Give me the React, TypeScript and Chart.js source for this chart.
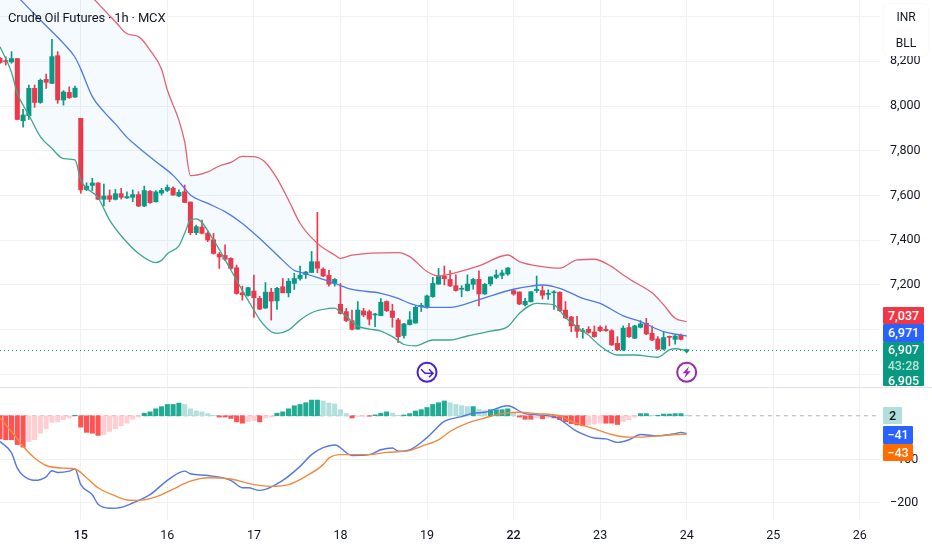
import React, { useEffect, useRef } from "react";
import { Chart, registerables } from "chart.js";

Chart.register(...registerables);

// candles, one per hourly bar
const opens = [8213, 8203, 8197, 8212, 7934, 7957, 8079, 8016, 8119, 8101, 8225, 8027, 8061, 8040, 7945, 7627, 7645, 7656, 7583, 7599, 7583, 7608, 7589, 7592, 7604, 7553, 7619, 7572, 7611, 7623, 7633, 7598, 7617, 7571, 7434, 7459, 7431, 7402, 7338, 7332, 7319, 7277, 7165, 7153, 7173, 7140, 7097, 7168, 7129, 7192, 7165, 7207, 7229, 7246, 7256, 7304, 7271, 7243, 7207, 7114, 7081, 7041, 7003, 7084, 7081, 7066, 7063, 7126, 7084, 7044, 6974, 7023, 7030, 7103, 7099, 7148, 7204, 7240, 7225, 7197, 7181, 7175, 7203, 7225, 7160, 7205, 7234, 7243, 7249, 7175, 7169, 7112, 7125, 7175, 7175, 7158, 7165, 7167, 7088, 7057, 7020, 6992, 7002, 6990, 7011, 7002, 6996, 6939, 6910, 7010, 6962, 7011, 7029, 6984, 6959, 6913, 6969, 6957, 6975, 6905];
const closes = [8194, 8198, 8212, 7940, 7960, 8079, 8016, 8115, 8106, 8221, 8027, 8063, 8037, 8080, 7625, 7642, 7656, 7583, 7598, 7583, 7608, 7592, 7595, 7604, 7553, 7622, 7568, 7616, 7623, 7636, 7602, 7614, 7569, 7434, 7461, 7431, 7401, 7341, 7325, 7315, 7274, 7162, 7156, 7188, 7143, 7092, 7168, 7128, 7185, 7165, 7217, 7229, 7244, 7258, 7304, 7275, 7240, 7204, 7225, 7073, 7041, 7002, 7088, 7066, 7047, 7070, 7123, 7085, 7055, 6969, 7026, 7044, 7100, 7109, 7151, 7207, 7240, 7228, 7196, 7175, 7185, 7204, 7225, 7160, 7203, 7236, 7245, 7254, 7276, 7160, 7115, 7127, 7170, 7181, 7154, 7163, 7169, 7085, 7053, 7017, 6993, 6996, 6988, 6969, 6996, 6996, 6932, 6910, 7007, 6969, 7017, 7026, 6981, 6954, 6913, 6965, 6966, 6972, 6957, 6907];
const highs = [8218, 8220, 8243, 8213, 7985, 8094, 8094, 8121, 8143, 8298, 8243, 8069, 8086, 8089, 7945, 7657, 7677, 7658, 7651, 7625, 7627, 7632, 7617, 7625, 7617, 7642, 7622, 7622, 7632, 7647, 7639, 7625, 7647, 7571, 7468, 7490, 7438, 7431, 7345, 7379, 7322, 7289, 7195, 7190, 7244, 7150, 7211, 7185, 7190, 7229, 7229, 7252, 7284, 7261, 7350, 7525, 7277, 7266, 7229, 7207, 7096, 7088, 7126, 7096, 7088, 7073, 7139, 7129, 7114, 7051, 7029, 7081, 7106, 7118, 7155, 7234, 7274, 7285, 7264, 7245, 7197, 7245, 7230, 7263, 7207, 7237, 7267, 7267, 7278, 7181, 7169, 7140, 7170, 7240, 7196, 7178, 7175, 7170, 7126, 7060, 7060, 7006, 7014, 7017, 7017, 7017, 7000, 6969, 7017, 7029, 7020, 7041, 7051, 7017, 6969, 6992, 6972, 6975, 6981, 6912];
const lows = [8191, 8183, 8191, 7938, 7905, 7940, 7994, 8012, 8079, 8101, 8012, 8004, 8034, 8039, 7610, 7622, 7622, 7581, 7553, 7572, 7580, 7584, 7587, 7572, 7550, 7550, 7565, 7571, 7602, 7617, 7601, 7595, 7568, 7425, 7425, 7428, 7394, 7338, 7274, 7310, 7270, 7159, 7132, 7150, 7055, 7090, 7095, 7043, 7091, 7165, 7147, 7180, 7222, 7229, 7255, 7255, 7237, 7195, 7195, 7070, 7036, 6999, 7002, 7058, 7021, 7014, 7063, 7081, 7011, 6942, 6962, 7021, 7029, 7081, 7096, 7145, 7203, 7200, 7193, 7172, 7148, 7173, 7181, 7106, 7158, 7196, 7228, 7228, 7243, 7154, 7112, 7106, 7124, 7166, 7137, 7136, 7091, 7082, 7050, 6991, 6966, 6962, 6984, 6966, 6991, 6992, 6930, 6907, 6907, 6966, 6960, 7008, 6978, 6951, 6910, 6910, 6928, 6936, 6954, 6900];

const upperBars = [0, 10, 16, 18, 20, 22, 24, 26, 28, 29, 30, 31, 32, 33, 36, 38, 40, 42, 44, 46, 48, 50, 52, 55, 58, 59, 61, 69, 71, 74, 76, 79, 83, 88, 90, 94, 97, 100, 103, 106, 108, 110, 113, 115, 117, 119];
const upperBand = [8760, 8640, 8486, 8431, 8377, 8323, 8310, 8250, 8164, 8072, 8004, 7937, 7841, 7689, 7706, 7732, 7748, 7775, 7774, 7748, 7677, 7580, 7476, 7386, 7334, 7319, 7334, 7345, 7327, 7260, 7240, 7255, 7285, 7334, 7304, 7282, 7275, 7312, 7315, 7282, 7245, 7212, 7165, 7111, 7051, 7036];
const middleBars = [0, 3, 6, 9, 11, 13, 14, 16, 18, 20, 22, 24, 27, 30, 32, 33, 36, 39, 42, 44, 47, 49, 51, 52, 56, 58, 61, 66, 69, 71, 74, 78, 83, 89, 92, 94, 97, 101, 104, 108, 111, 115, 119];
const middleBand = [8570, 8490, 8410, 8333, 8280, 8218, 8165, 8042, 7975, 7920, 7860, 7815, 7752, 7690, 7632, 7602, 7565, 7528, 7475, 7431, 7360, 7310, 7265, 7258, 7225, 7207, 7180, 7163, 7140, 7118, 7100, 7100, 7135, 7181, 7195, 7200, 7185, 7140, 7118, 7062, 7036, 6992, 6972];
const lowerBars = [0, 2, 3, 5, 7, 9, 11, 13, 14, 17, 19, 21, 24, 27, 28, 29, 31, 32, 33, 34, 37, 40, 42, 44, 45, 47, 48, 50, 52, 54, 57, 58, 59, 60, 62, 64, 66, 68, 70, 72, 75, 78, 81, 85, 88, 90, 93, 96, 98, 100, 102, 104, 107, 110, 114, 116, 117, 119];
const lowerBand = [8265, 8150, 8057, 7960, 7863, 7810, 7765, 7759, 7669, 7590, 7490, 7420, 7341, 7300, 7310, 7340, 7375, 7431, 7490, 7496, 7401, 7267, 7175, 7088, 7045, 6991, 6984, 6998, 7043, 7076, 7095, 7097, 7080, 7060, 7016, 7003, 6994, 6969, 6934, 6928, 6954, 6954, 6972, 6994, 7014, 7073, 7118, 7111, 7055, 7012, 6975, 6928, 6887, 6887, 6877, 6910, 6915, 6907];

// macd pane
const histogram = [-53, -55, -55, -66, -72, -59, -55, -40, -30, -15, -14, -9, -5, 1, -26, -38, -40, -45, -43, -36, -30, -23, -17, -8, -3, 6, 9, 16, 21, 26, 26, 29, 26, 16, 11, 9, 5, 1, -3, -3, -6, -14, -17, -13, -11, -14, -5, -3, 6, 9, 16, 23, 26, 30, 36, 36, 34, 29, 27, 14, 5, -5, -1.5, -1, -1, 2, 6, 9, 6, 1, 2, 5, 11, 14, 19, 26, 30, 34, 30, 26, 23, 21, 21, 15, 12, 14, 14, 14, 16, 6, -3, -8, -8, -5, -7, -5, -5, -9, -14, -18, -21, -23, -21, -19, -17, -17, -17, -20, -13, -9, -3, 5, 5, 1, 1, 4, 4, 5, 5, 2];
const macdBars = [0, 2, 3, 4, 6, 8, 9, 10, 12, 13, 14, 16, 17, 19, 21, 23, 26, 29, 32, 33, 36, 40, 42, 43, 45, 49, 52, 54, 56, 58, 61, 64, 66, 68, 69, 71, 74, 77, 80, 82, 84, 88, 91, 96, 100, 103, 105, 107, 109, 111, 114, 117, 118, 119];
const macdLine = [-59, -85, -120, -137, -148, -140, -126, -130, -127, -122, -158, -181, -203, -212, -210, -200, -181, -148, -127, -133, -137, -148, -165, -165, -171, -148, -116, -89, -73, -67, -91, -89, -78, -74, -81, -78, -50, -13, -2, 6, 8, 23, 5, -2, -36, -51, -53, -61, -55, -43, -46, -41, -38, -41];
const signalBars = [0, 2, 4, 6, 8, 11, 13, 15, 17, 20, 22, 24, 27, 30, 33, 36, 40, 44, 47, 50, 53, 56, 57, 59, 64, 67, 71, 73, 76, 78, 81, 84, 87, 90, 93, 97, 99, 103, 106, 109, 111, 114, 117, 119];
const signalLine = [-5, -36, -70, -97, -114, -120, -122, -142, -165, -184, -193, -194, -186, -168, -150, -142, -145, -158, -162, -158, -139, -112, -97, -89, -89, -84, -80, -70, -55, -36, -17, -5, 5, 8, 5, 0, -13, -30, -43, -49, -49, -46, -43, -42];

// axes
const dayBars = [14, 29, 44, 59, 74, 89, 104, 119, 134, 149];
const dayLabels = ["15", "16", "17", "18", "19", "22", "23", "24", "25", "26"];
const boldDays = ["15", "22"];
const priceTicks = [6800, 7000, 7200, 7400, 7600, 7800, 8000, 8200, 8400];
const macdTicks = [-200, -100];

const lastPrice = 6907;
const eventBars = [74, 119];

const GREEN = "#089981";
const RED = "#f23645";
const FONT = "Roboto, sans-serif";
const LAST_BAR_AXIS_END = 152.5;

const pairs = (xs: number[], ys: number[]) => xs.map((x, i) => ({ x, y: ys[i] }));

const candleColors = closes.map((c, i) => (c >= opens[i] ? GREEN : RED));
const histColors = histogram.map((h, i) => {
  const prev = i > 0 ? histogram[i - 1] : h;
  if (h >= 0) return h >= prev ? "#22ab94" : "#b2dfdb";
  return h <= prev ? "#ff5252" : "#ffcdd2";
});

// separator between panes, the two event badges, the small arrow on the last candle
const overlayPlugin = {
  id: "overlay",
  afterDatasetsDraw(chart: any) {
    const { ctx, scales } = chart;
    const x = scales.x;
    const price = scales.y;
    ctx.save();
    ctx.strokeStyle = "#e0e3eb";
    ctx.lineWidth = 1;
    ctx.beginPath();
    ctx.moveTo(0, price.bottom + 0.5);
    ctx.lineTo(chart.width, price.bottom + 0.5);
    ctx.stroke();

    const yBadge = price.getPixelForValue(6810);
    eventBars.forEach((bar, i) => {
      const cx = x.getPixelForValue(bar);
      const color = i === 0 ? "#4a1fd8" : "#9c27b0";
      ctx.strokeStyle = color;
      ctx.fillStyle = color;
      ctx.lineWidth = 2;
      ctx.beginPath();
      ctx.arc(cx, yBadge, 9.5, 0, Math.PI * 2);
      ctx.stroke();
      ctx.lineWidth = 1.5;
      ctx.beginPath();
      if (i === 0) {
        ctx.moveTo(cx - 6, yBadge - 3);
        ctx.lineTo(cx - 2, yBadge + 1);
        ctx.lineTo(cx + 5, yBadge + 1);
        ctx.moveTo(cx + 2, yBadge - 3);
        ctx.lineTo(cx + 6, yBadge + 1);
        ctx.lineTo(cx + 2, yBadge + 5);
        ctx.stroke();
      } else {
        ctx.moveTo(cx + 2.5, yBadge - 6);
        ctx.lineTo(cx - 4, yBadge + 1);
        ctx.lineTo(cx - 0.5, yBadge + 1);
        ctx.lineTo(cx - 2.5, yBadge + 6);
        ctx.lineTo(cx + 4, yBadge - 1);
        ctx.lineTo(cx + 0.5, yBadge - 1);
        ctx.closePath();
        ctx.fill();
      }
    });

    const ax = x.getPixelForValue(119);
    const ay = price.getPixelForValue(lastPrice);
    ctx.fillStyle = GREEN;
    ctx.beginPath();
    ctx.moveTo(ax - 3, ay - 1);
    ctx.lineTo(ax + 3, ay - 1);
    ctx.lineTo(ax, ay + 3);
    ctx.closePath();
    ctx.fill();
    ctx.restore();
  },
};

const tagStyle = (top: number, height: number, width: number, background: string, color = "#fff"): React.CSSProperties => ({
  position: "absolute",
  left: 883,
  top,
  width,
  height,
  background,
  color,
  textAlign: "center",
  font: `500 12.5px/${height}px ${FONT}`,
  borderRadius: 1,
});

const App = () => {
  const canvasRef = useRef<HTMLCanvasElement>(null);

  useEffect(() => {
    const bars = closes.map((_, i) => i);
    const lineBase = { type: "line", pointRadius: 0, fill: false, cubicInterpolationMode: "monotone" };

    const chart = new Chart(canvasRef.current!, {
      type: "bar",
      data: {
        datasets: [
          {
            ...lineBase,
            label: "Upper",
            data: pairs(upperBars, upperBand),
            borderColor: "#e4626f",
            borderWidth: 1.3,
            backgroundColor: "rgba(33,150,243,0.05)",
            fill: { target: 2 },
            yAxisID: "y",
            order: 1,
          },
          {
            ...lineBase,
            label: "Basis",
            data: pairs(middleBars, middleBand),
            borderColor: "#5378e4",
            borderWidth: 1.3,
            yAxisID: "y",
            order: 1,
          },
          {
            ...lineBase,
            label: "Lower",
            data: pairs(lowerBars, lowerBand),
            borderColor: "#41a68d",
            borderWidth: 1.3,
            yAxisID: "y",
            order: 1,
          },
          {
            type: "bar",
            label: "Wicks",
            data: bars.map((i) => ({ x: i, y: [lows[i], highs[i]] })),
            backgroundColor: candleColors,
            barThickness: 1,
            grouped: false,
            yAxisID: "y",
            order: 3,
          },
          {
            type: "bar",
            label: "Bodies",
            data: bars.map((i) => ({ x: i, y: [opens[i], closes[i]] })),
            backgroundColor: candleColors,
            barThickness: 4.4,
            minBarLength: 1,
            grouped: false,
            yAxisID: "y",
            order: 2,
          },
          {
            ...lineBase,
            label: "Last",
            data: [
              { x: 0, y: lastPrice },
              { x: LAST_BAR_AXIS_END, y: lastPrice },
            ],
            borderColor: GREEN,
            borderWidth: 1,
            borderDash: [1, 3],
            yAxisID: "y",
            order: 4,
          },
          {
            type: "bar",
            label: "Histogram",
            data: bars.map((i) => ({ x: i, y: histogram[i] })),
            backgroundColor: histColors,
            barThickness: 4.4,
            grouped: false,
            yAxisID: "macd",
            order: 6,
          },
          {
            ...lineBase,
            label: "Zero",
            data: [
              { x: 0, y: 0 },
              { x: LAST_BAR_AXIS_END, y: 0 },
            ],
            borderColor: "#b2b5be",
            borderWidth: 1,
            borderDash: [4, 4],
            yAxisID: "macd",
            order: 7,
          },
          {
            ...lineBase,
            label: "MACD",
            data: pairs(macdBars, macdLine),
            borderColor: "#5378e4",
            borderWidth: 1.4,
            yAxisID: "macd",
            order: 5,
          },
          {
            ...lineBase,
            label: "Signal",
            data: pairs(signalBars, signalLine),
            borderColor: "#f08a3c",
            borderWidth: 1.4,
            yAxisID: "macd",
            order: 4,
          },
        ] as any,
      },
      options: {
        animation: false,
        responsive: false,
        events: [],
        layout: { padding: 0 },
        plugins: { legend: { display: false }, tooltip: { enabled: false } },
        scales: {
          x: {
            type: "linear",
            min: 0,
            max: LAST_BAR_AXIS_END,
            offset: false,
            afterBuildTicks: (scale: any) => {
              scale.ticks = dayBars.map((value) => ({ value }));
            },
            afterFit: (scale: any) => {
              scale.height = 30;
            },
            grid: { color: "#f0f1f4", offset: false, drawTicks: false },
            border: { display: false },
            ticks: {
              autoSkip: false,
              maxRotation: 0,
              padding: 8,
              color: "#131722",
              callback: (_v: any, i: number) => dayLabels[i],
              font: (ctx: any) => ({
                family: FONT,
                size: 12.5,
                weight: boldDays.includes(dayLabels[ctx.index]) ? "500" : "400",
              }),
            },
          },
          y: {
            position: "right",
            stack: "panes",
            stackWeight: 387,
            min: 6744,
            max: 8474,
            afterBuildTicks: (scale: any) => {
              scale.ticks = priceTicks.map((value) => ({ value }));
            },
            afterFit: (scale: any) => {
              scale.width = 52;
              scale.paddingTop = 0;
              scale.paddingBottom = 0;
            },
            grid: { color: "#f0f1f4", drawTicks: false },
            border: { display: false },
            ticks: {
              autoSkip: false,
              padding: 10,
              color: "#131722",
              font: { family: FONT, size: 12.5 },
              callback: (v: any) => Number(v).toLocaleString("en-US"),
            },
          },
          macd: {
            position: "right",
            stack: "panes",
            stackWeight: 133,
            min: -239,
            max: 66,
            afterBuildTicks: (scale: any) => {
              scale.ticks = macdTicks.map((value) => ({ value }));
            },
            afterFit: (scale: any) => {
              scale.width = 52;
              scale.paddingTop = 0;
              scale.paddingBottom = 0;
            },
            grid: { color: "#f0f1f4", drawTicks: false },
            border: { display: false },
            ticks: {
              autoSkip: false,
              padding: 10,
              color: "#131722",
              font: { family: FONT, size: 12.5 },
              callback: (v: any) => String(v).replace("-", "\u2212"),
            },
          },
        },
      } as any,
      plugins: [overlayPlugin],
    });

    return () => {
      chart.destroy();
    };
  }, []);

  return (
    <div style={{ position: "absolute", left: 0, top: 0, width: 932, height: 550, background: "#fff", overflow: "hidden" }}>
      <canvas ref={canvasRef} width={932} height={550} style={{ display: "block" }} />
      <div style={{ position: "absolute", left: 8, top: 9, font: `400 13px/18px ${FONT}`, letterSpacing: -0.15, color: "#131722", whiteSpace: "nowrap" }}>
        Crude Oil Futures · 1h · MCX
      </div>
      <div
        style={{
          position: "absolute",
          left: 884,
          top: 4,
          width: 44,
          height: 52,
          background: "#fff",
          borderRadius: 5,
          boxShadow: "0 0 2px rgba(0,0,0,0.08)",
          textAlign: "center",
          font: `400 12px/26px ${FONT}`,
          color: "#131722",
        }}
      >
        <div>INR</div>
        <div>BLL</div>
      </div>
      <div style={tagStyle(307, 17, 41, RED)}>7,037</div>
      <div style={tagStyle(324, 18, 41, "#2962ff")}>6,971</div>
      <div style={{ ...tagStyle(342, 44, 41, GREEN), overflow: "hidden" }}>
        <div style={{ lineHeight: "16px" }}>6,907</div>
        <div style={{ lineHeight: "15px", opacity: 0.7 }}>43:28</div>
        <div style={{ lineHeight: "16px" }}>6,905</div>
      </div>
      <div style={tagStyle(407, 17, 19, "#b2dfdb", "#131722")}>2</div>
      <div style={tagStyle(426, 18, 30, "#2962ff")}>−41</div>
      <div style={tagStyle(444, 17, 30, "#ff6d00")}>−43</div>
    </div>
  );
};

export default App;
